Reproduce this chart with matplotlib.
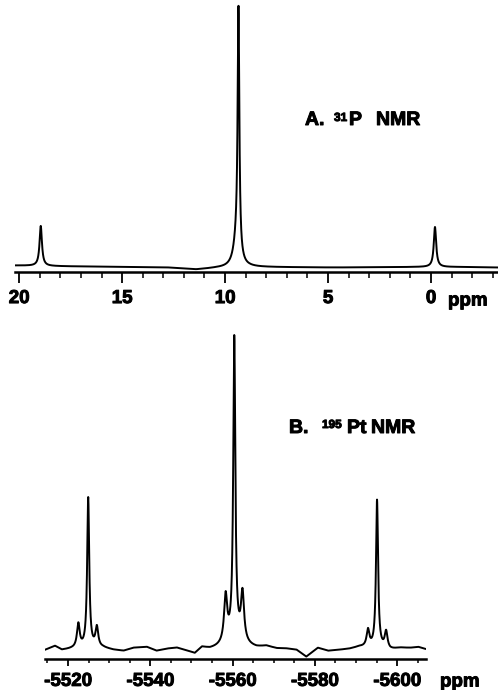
import numpy as np
import matplotlib.pyplot as plt
import matplotlib.patheffects as pe
from matplotlib.ticker import MultipleLocator

plt.rcParams['font.family'] = ['Liberation Sans', 'DejaVu Sans']

# A. 31P NMR - peaks (ppm, height, half width)
p_center = [18.95, 9.35, 9.45, -0.19]
p_height = [40, 245, 22, 40]
p_width = [0.07, 0.05, 0.18, 0.07]
# baseline
p_base_ppm = [20.2, 17.7, 14.45, 12.8, 11.4, 10.4, 8.8, 4.7, 0.7, -1.7, -3.25]
p_base_val = [6.5, 5.7, 5.0, 4.5, 2.5, 4.0, 5.0, 4.5, 5.0, 5.0, 4.5]
p_ticks = [20, 15, 10, 5, 0]

# B. 195Pt NMR - peaks
pt_center = [-5522.5, -5524.9, -5527.0, -5558.3, -5560.4, -5562.4, -5560.4,
             -5592.9, -5595.1, -5597.3]
pt_height = [24, 150, 20, 46, 300, 48, 10, 17, 148, 17]
pt_width = [0.4, 0.3, 0.4, 0.45, 0.3, 0.45, 2.5, 0.4, 0.3, 0.4]
pt_base_ppm = [-5514.4, -5516.8, -5518.5, -5520.9, -5528.5, -5531.0, -5533.5,
               -5535.8, -5539.1, -5541.5, -5544.0, -5546.4, -5548.8, -5550.8,
               -5552.5, -5554.5, -5563.8, -5565.8, -5568.2, -5570.7, -5573.1,
               -5575.5, -5577.9, -5580.7, -5583.2, -5586.0, -5588.4, -5590.8,
               -5598.3, -5600.7, -5603.2, -5605.1, -5606.8]
pt_base_val = [9, 13, 9, 10, 11, 9, 8, 11, 12, 8, 10, 11, 8, 5, 11, 9, 10, 10,
               12, 10, 10, 9, 2, 11, 8, 9, 10, 12, 9, 11, 11, 12, 10]
pt_ticks = [-5520, -5540, -5560, -5580, -5600]


def spectrum(x, centers, heights, widths, base_x, base_y):
    # baseline + lorentzian lines
    bx = np.array(base_x)
    by = np.array(base_y)
    order = np.argsort(bx)
    y = np.interp(x, bx[order], by[order])
    for c, h, w in zip(centers, heights, widths):
        y = y + h * w**2 / ((x - c)**2 + w**2)
    return y


W, H = 498, 690


def fx(px):
    return px / W


def fy(py):
    return 1 - py / H


heavy = [pe.withStroke(linewidth=0.7, foreground='black')]
fig = plt.figure(figsize=(W / 100, H / 100), dpi=100)

# Top panel
ax1 = fig.add_axes([fx(15), fy(272), fx(483), 272 / H])
x1 = np.linspace(20.2, -3.25, 6000)
y1 = spectrum(x1, p_center, p_height, p_width, p_base_ppm, p_base_val)
ax1.plot(x1, y1, color='black', lw=1.4)
ax1.set_xlim(20.2, -3.25)
ax1.set_ylim(0, 272)
ax1.set_xticks(p_ticks)
ax1.set_xticklabels([str(t) for t in p_ticks], fontsize=13.5, fontweight='bold')
ax1.xaxis.set_minor_locator(MultipleLocator(1))
ax1.tick_params(axis='x', which='major', length=8, width=1.3, pad=5)
ax1.tick_params(axis='x', which='minor', length=4, width=1.1)

# Bottom panel
ax2 = fig.add_axes([fx(45), fy(659), fx(381), 330 / H])
x2 = np.linspace(-5514.4, -5606.8, 8000)
y2 = spectrum(x2, pt_center, pt_height, pt_width, pt_base_ppm, pt_base_val)
ax2.plot(x2, y2, color='black', lw=1.4)
ax2.set_xlim(-5514.4, -5607.0)
ax2.set_ylim(0, 330)
ax2.set_xticks(pt_ticks)
ax2.set_xticklabels([str(t) for t in pt_ticks], fontsize=13.5, fontweight='bold')
ax2.xaxis.set_minor_locator(MultipleLocator(5))
ax2.tick_params(axis='x', which='major', length=5, width=1.3, pad=5)
ax2.tick_params(axis='x', which='minor', length=3, width=1.1)

for ax in (ax1, ax2):
    for s in ('top', 'left', 'right'):
        ax.spines[s].set_visible(False)
    ax.spines['bottom'].set_linewidth(1.8)
    ax.set_yticks([])
    ax.patch.set_alpha(0)
    for lab in ax.get_xticklabels():
        lab.set_path_effects(heavy)

# ppm unit labels
fig.text(fx(448), fy(301), 'ppm', fontsize=13.5, fontweight='bold',
         va='center', path_effects=heavy)
fig.text(fx(440), fy(682), 'ppm', fontsize=13.5, fontweight='bold',
         va='center', path_effects=heavy)

# panel titles
big = dict(fontsize=14, fontweight='bold', va='baseline', path_effects=heavy)
small = dict(fontsize=8.5, fontweight='bold', va='baseline', path_effects=heavy)
fig.text(fx(305), fy(125), 'A.', **big)
fig.text(fx(334), fy(121), '31', **small)
fig.text(fx(349), fy(125), 'P', **big)
fig.text(fx(376), fy(125), 'NMR', **big)

fig.text(fx(289), fy(433), 'B.', **big)
fig.text(fx(322), fy(428), '195', **small)
fig.text(fx(347), fy(433), 'Pt', **big)
fig.text(fx(371), fy(433), 'NMR', **big)

fig.savefig('out.png', dpi=100)
